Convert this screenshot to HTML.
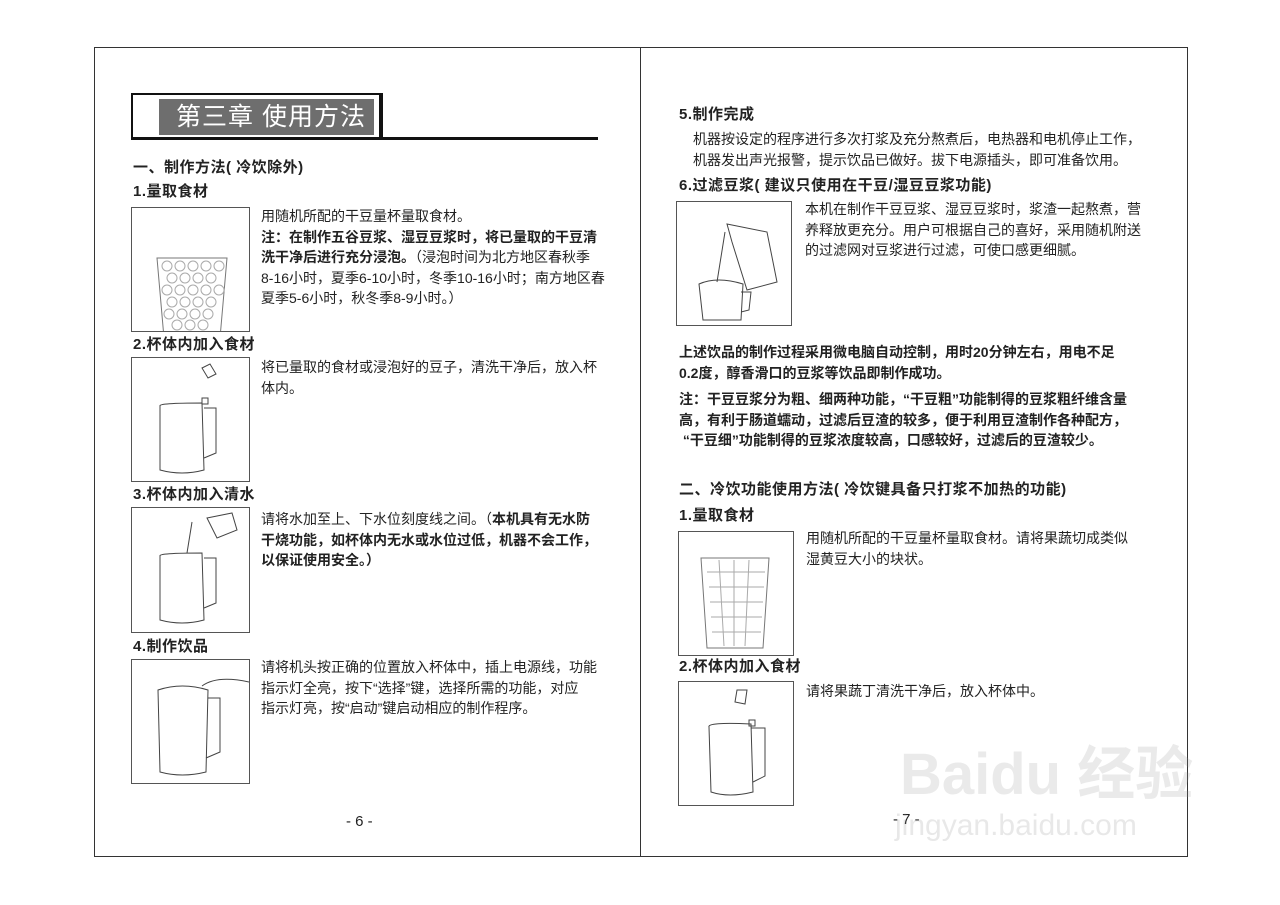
<!DOCTYPE html>
<html><head><meta charset="utf-8"><style>
body{margin:0;width:1280px;height:905px;background:#fff;position:relative;overflow:hidden;font-family:"Liberation Sans","Noto Sans CJK SC",sans-serif;color:#222}
.a{position:absolute;white-space:nowrap;font-size:14px;line-height:20.5px}
.h{font-weight:bold;font-size:15px;letter-spacing:0.5px}
.b{font-weight:bold}
.box{position:absolute;border:1px solid #555;background:#fff}
svg{position:absolute;left:0;top:0}
</style></head><body>
<div style="position:absolute;left:94px;top:47px;width:1092px;height:808px;border:1px solid #333"></div>
<div style="position:absolute;left:640px;top:47px;width:1px;height:809px;background:#333"></div>
<!-- title -->
<div style="position:absolute;left:131px;top:93px;width:246px;height:43px;border:2px solid #111;border-right-width:4px;border-bottom:none"></div>
<div style="position:absolute;left:159px;top:99px;width:215px;height:36px;background:#6e6e6e;color:#fff;font-size:25px;letter-spacing:1px;line-height:36px;padding-left:17px;box-sizing:border-box">第三章 使用方法</div>
<div style="position:absolute;left:131px;top:137px;width:467px;height:3px;background:#111"></div>

<div class="a h" style="left:133px;top:158px">一、制作方法( 冷饮除外)</div>
<div class="a h" style="left:133px;top:182px">1.量取食材</div>
<div class="box" style="left:131px;top:207px;width:117px;height:123px"><svg width="117" height="123"><path d="M25 50 L95 50 L88 130 L32 130Z" fill="none" stroke="#777"/><g fill="none" stroke="#aaa"><circle cx="35" cy="58" r="5"/><circle cx="48" cy="58" r="5"/><circle cx="61" cy="58" r="5"/><circle cx="74" cy="58" r="5"/><circle cx="87" cy="58" r="5"/><circle cx="40" cy="70" r="5"/><circle cx="53" cy="70" r="5"/><circle cx="66" cy="70" r="5"/><circle cx="79" cy="70" r="5"/><circle cx="35" cy="82" r="5"/><circle cx="48" cy="82" r="5"/><circle cx="61" cy="82" r="5"/><circle cx="74" cy="82" r="5"/><circle cx="87" cy="82" r="5"/><circle cx="40" cy="94" r="5"/><circle cx="53" cy="94" r="5"/><circle cx="66" cy="94" r="5"/><circle cx="79" cy="94" r="5"/><circle cx="37" cy="106" r="5"/><circle cx="50" cy="106" r="5"/><circle cx="63" cy="106" r="5"/><circle cx="76" cy="106" r="5"/><circle cx="45" cy="117" r="5"/><circle cx="58" cy="117" r="5"/><circle cx="71" cy="117" r="5"/></g></svg></div>
<div class="a" style="left:261px;top:206px">用随机所配的干豆量杯量取食材。<br><b>注：在制作五谷豆浆、湿豆豆浆时，将已量取的干豆清</b><br><b>洗干净后进行充分浸泡。</b>（浸泡时间为北方地区春秋季<br>8-16小时，夏季6-10小时，冬季10-16小时；南方地区春<br>夏季5-6小时，秋冬季8-9小时。）</div>

<div class="a h" style="left:133px;top:335px">2.杯体内加入食材</div>
<div class="box" style="left:131px;top:357px;width:117px;height:123px"><svg width="117" height="123"><g fill="none" stroke="#444"><path d="M28 48 Q26 45 70 45 L72 112 Q50 118 28 112Z"/><path d="M72 50 L84 50 L84 95 L72 100"/><rect x="70" y="40" width="6" height="6"/><path d="M70 10 l8 -4 l6 10 l-8 4z"/></g></svg></div>
<div class="a" style="left:261px;top:357px">将已量取的食材或浸泡好的豆子，清洗干净后，放入杯<br>体内。</div>

<div class="a h" style="left:133px;top:485px">3.杯体内加入清水</div>
<div class="box" style="left:131px;top:507px;width:117px;height:124px"><svg width="117" height="124"><g fill="none" stroke="#444"><path d="M28 48 Q26 45 70 45 L72 112 Q50 118 28 112Z"/><path d="M72 50 L84 50 L84 95 L72 100"/><path d="M75 10 L100 5 L105 22 L85 30Z"/><path d="M60 14 L55 45"/></g></svg></div>
<div class="a" style="left:261px;top:509px">请将水加至上、下水位刻度线之间。（<b>本机具有无水防</b><br><b>干烧功能，如杯体内无水或水位过低，机器不会工作，</b><br><b>以保证使用安全。）</b></div>

<div class="a h" style="left:133px;top:637px">4.制作饮品</div>
<div class="box" style="left:131px;top:659px;width:117px;height:123px"><svg width="117" height="123"><g fill="none" stroke="#444"><path d="M26 30 Q50 22 76 30 L74 112 Q50 118 28 112Z"/><path d="M76 38 L88 38 L88 92 L74 98"/><path d="M70 26 Q85 15 117 22"/></g></svg></div>
<div class="a" style="left:261px;top:657px">请将机头按正确的位置放入杯体中，插上电源线，功能<br>指示灯全亮，按下“选择”键，选择所需的功能，对应<br>指示灯亮，按“启动”键启动相应的制作程序。</div>
<div class="a" style="left:346px;top:812px;font-size:15px">- 6 -</div>

<!-- right -->
<div class="a h" style="left:679px;top:105px">5.制作完成</div>
<div class="a" style="left:693px;top:129px">机器按设定的程序进行多次打浆及充分熬煮后，电热器和电机停止工作，<br>机器发出声光报警，提示饮品已做好。拔下电源插头，即可准备饮用。</div>
<div class="a h" style="left:679px;top:176px">6.过滤豆浆( 建议只使用在干豆/湿豆豆浆功能)</div>
<div class="box" style="left:676px;top:201px;width:114px;height:123px"><svg width="114" height="123"><g fill="none" stroke="#444"><path d="M50 22 L90 30 L100 80 L70 88 L55 40Z"/><path d="M22 82 Q40 74 66 82 L64 118 L26 118Z"/><path d="M64 90 L74 90 L72 108 L64 110"/><path d="M48 30 L40 80"/></g></svg></div>
<div class="a" style="left:805px;top:199px">本机在制作干豆豆浆、湿豆豆浆时，浆渣一起熬煮，营<br>养释放更充分。用户可根据自己的喜好，采用随机附送<br>的过滤网对豆浆进行过滤，可使口感更细腻。</div>
<div class="a b" style="left:679px;top:342px">上述饮品的制作过程采用微电脑自动控制，用时20分钟左右，用电不足<br>0.2度，醇香滑口的豆浆等饮品即制作成功。</div>
<div class="a b" style="left:679px;top:389px">注：干豆豆浆分为粗、细两种功能，“干豆粗”功能制得的豆浆粗纤维含量<br>高，有利于肠道蠕动，过滤后豆渣的较多，便于利用豆渣制作各种配方，<br>&nbsp;“干豆细”功能制得的豆浆浓度较高，口感较好，过滤后的豆渣较少。</div>
<div class="a h" style="left:679px;top:480px">二、冷饮功能使用方法( 冷饮键具备只打浆不加热的功能)</div>
<div class="a h" style="left:679px;top:506px">1.量取食材</div>
<div class="box" style="left:678px;top:531px;width:114px;height:123px"><svg width="114" height="123"><path d="M22 26 L90 26 L84 116 L28 116Z" fill="none" stroke="#777"/><g stroke="#aaa" fill="none"><path d="M28 40 L86 40 M30 55 L85 55 M31 70 L84 70 M32 85 L83 85 M33 100 L82 100 M40 28 L45 114 M55 28 L55 114 M70 28 L66 114"/></g></svg></div>
<div class="a" style="left:806px;top:528px">用随机所配的干豆量杯量取食材。请将果蔬切成类似<br>湿黄豆大小的块状。</div>
<div class="a h" style="left:679px;top:657px">2.杯体内加入食材</div>
<div class="box" style="left:678px;top:681px;width:114px;height:123px"><svg width="114" height="123"><g fill="none" stroke="#444"><path d="M30 45 Q28 40 72 42 L74 110 Q50 116 32 110Z"/><path d="M72 46 L86 46 L86 94 L74 100"/><rect x="70" y="38" width="6" height="6"/><path d="M58 8 l10 0 l-2 14 l-10 -2z"/></g></svg></div>
<div class="a" style="left:806px;top:681px">请将果蔬丁清洗干净后，放入杯体中。</div>
<div class="a" style="left:893px;top:810px;font-size:15px">- 7 -</div>
<!-- watermark -->
<div class="a" style="left:900px;top:740px;font-size:58px;line-height:70px;color:rgba(150,150,150,0.2);font-weight:bold">Baidu 经验</div>
<div class="a" style="left:895px;top:808px;font-size:30px;line-height:36px;color:rgba(150,150,150,0.22)">jingyan.baidu.com</div>
</body></html>
